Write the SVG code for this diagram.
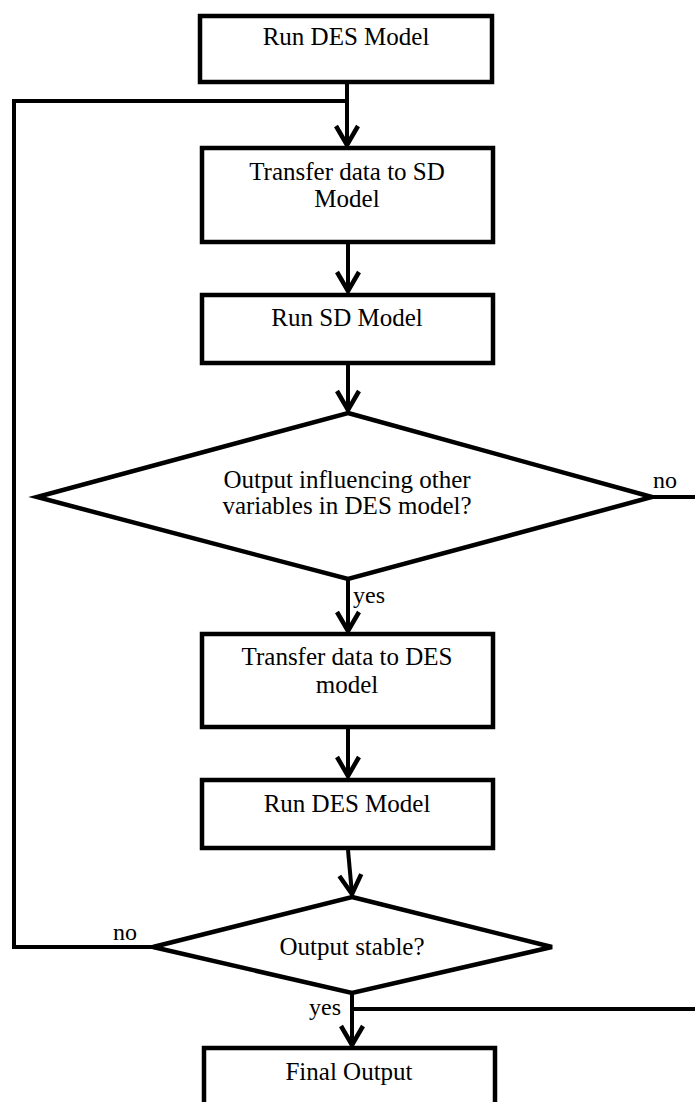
<svg xmlns="http://www.w3.org/2000/svg" width="695" height="1102" viewBox="0 0 695 1102">
<style>
.box{fill:#fff;stroke:#000;stroke-width:4.5}
.dia{fill:#fff;stroke:#000;stroke-width:4.5;stroke-linejoin:miter}
.ln{fill:none;stroke:#000;stroke-width:4}
.t{font-family:"Liberation Serif","Times New Roman",serif;font-size:25px;fill:#000;text-anchor:middle}
.lb{font-family:"Liberation Serif","Times New Roman",serif;font-size:24px;fill:#000}
</style>
<defs>
<marker id="arr" markerUnits="userSpaceOnUse" orient="auto" viewBox="-24 -14 28 28" refX="0" refY="0" markerWidth="28" markerHeight="28">
<path d="M-19,-11 L0,0 L-19,11" fill="none" stroke="#000" stroke-width="4.5"/>
</marker>
</defs>
<rect width="695" height="1102" fill="#fff"/>
<g id="connectors">
<path class="ln" d="M153,947 L14,947 L14,101 L347,101"/>
<path class="ln" d="M347,84 L347,145" marker-end="url(#arr)"/>
<path class="ln" d="M348,244 L348,291" marker-end="url(#arr)"/>
<path class="ln" d="M348,365 L348,410" marker-end="url(#arr)"/>
<path class="ln" d="M348,579 L348,631" marker-end="url(#arr)"/>
<path class="ln" d="M348,729 L348,776" marker-end="url(#arr)"/>
<path class="ln" d="M348,850 L352,894" marker-end="url(#arr)"/>
<path class="ln" d="M352,993 L352,1045" marker-end="url(#arr)"/>
<path class="ln" d="M652,497 L695,497"/>
<path class="ln" d="M352,1009 L695,1009"/>
<text class="lb" x="653" y="488">no</text>
<text class="lb" x="353" y="603">yes</text>
<text class="lb" x="113" y="940">no</text>
<text class="lb" x="309" y="1015">yes</text>
</g>
<g id="n1">
<rect class="box" x="200" y="16" width="292" height="66"/>
<text class="t" x="346" y="45">Run DES Model</text>
</g>
<g id="n2">
<rect class="box" x="202" y="148" width="291" height="94"/>
<text class="t" x="347" y="180">Transfer data to SD</text>
<text class="t" x="347" y="207">Model</text>
</g>
<g id="n3">
<rect class="box" x="202" y="295" width="291" height="68"/>
<text class="t" x="347" y="326">Run SD Model</text>
</g>
<g id="n4">
<polygon class="dia" points="348,413 652,497 348,579 37,497"/>
<text class="t" x="347" y="488">Output influencing other</text>
<text class="t" x="347" y="514">variables in DES model?</text>
</g>
<g id="n5">
<rect class="box" x="202" y="634" width="291" height="93"/>
<text class="t" x="347" y="665">Transfer data to DES</text>
<text class="t" x="347" y="693">model</text>
</g>
<g id="n6">
<rect class="box" x="202" y="780" width="291" height="68"/>
<text class="t" x="347" y="812">Run DES Model</text>
</g>
<g id="n7">
<polygon class="dia" points="352,897 552,947 352,993 153,947"/>
<text class="t" x="352" y="955">Output stable?</text>
</g>
<g id="n8">
<rect class="box" x="204" y="1048" width="291" height="70"/>
<text class="t" x="349" y="1080">Final Output</text>
</g>
</svg>
